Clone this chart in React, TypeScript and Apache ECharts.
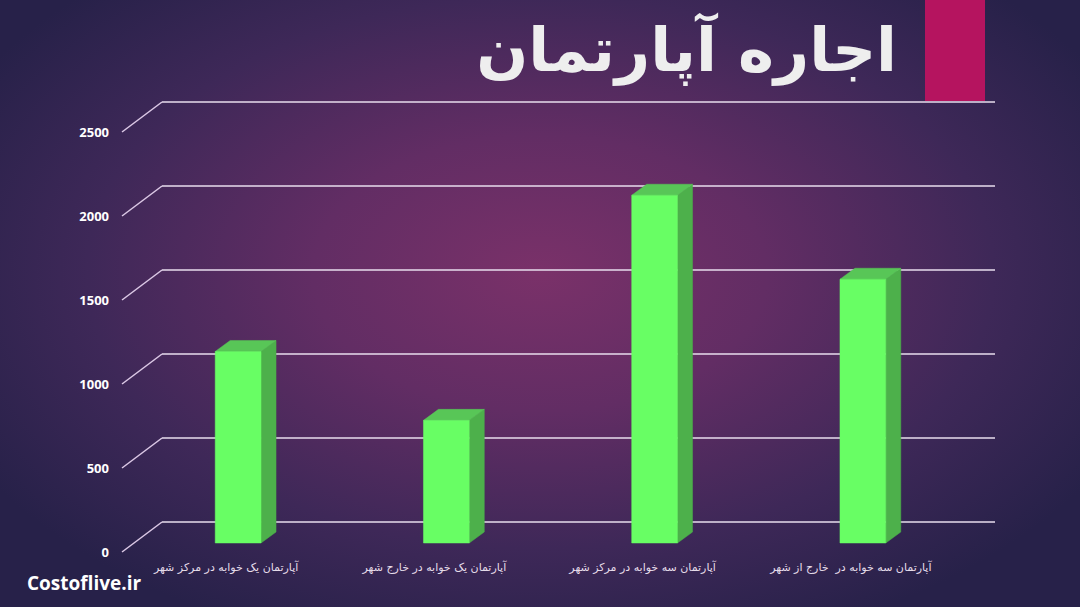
import React, { useEffect, useRef } from "react";
import * as echarts from "echarts";

const categories = [
  "آپارتمان یک خوابه در مرکز شهر",
  "آپارتمان یک خوابه در خارج شهر",
  "آپارتمان سه خوابه در مرکز شهر",
  "آپارتمان سه خوابه در  خارج از شهر",
];
const rentValues = [1140, 730, 2070, 1570];
const yTicks = [0, 500, 1000, 1500, 2000, 2500];
const titleText = "اجاره آپارتمان";
const watermark = "Costoflive.ir";

const DEPTH_X = 40;
const DEPTH_Y = 30;

export default function App() {
  const ref = useRef<HTMLDivElement>(null);
  useEffect(() => {
    document.body.style.margin = "0";
    const chart = echarts.init(ref.current!, null, { renderer: "svg" });
    chart.setOption({
      animation: false,
      title: {
        text: titleText,
        right: 178,
        top: 14,
        textStyle: {
          fontSize: 61,
          fontWeight: "bold",
          color: "#EEEEEE",
          fontFamily: "DejaVu Sans",
        },
      },
      grid: [
        { left: 162, right: 85, top: 102, bottom: 85 },
        { left: 122, right: 125, top: 132, bottom: 55 },
      ],
      xAxis: [
        { type: "category", gridIndex: 0, data: categories, show: false },
        {
          type: "category",
          gridIndex: 1,
          data: categories,
          axisLine: { show: false },
          axisTick: { show: false },
          axisLabel: {
            color: "#E6DDEA",
            fontSize: 11,
            fontFamily: "DejaVu Sans",
            margin: 10,
            interval: 0,
          },
        },
      ],
      yAxis: [
        {
          type: "value",
          gridIndex: 0,
          min: 0,
          max: 2500,
          interval: 500,
          z: 0,
          axisLabel: { show: false },
          axisLine: { show: false },
          axisTick: { show: false },
          splitLine: { lineStyle: { color: "#E8DEEE", width: 1.5 } },
        },
        {
          type: "value",
          gridIndex: 1,
          min: 0,
          max: 2500,
          interval: 500,
          axisLabel: {
            color: "#FFFFFF",
            fontWeight: "bold",
            fontSize: 13,
            fontFamily: "Open Sans",
            margin: 13,
            formatter: (v: number) => String(v),
          },
          axisLine: { show: false },
          axisTick: { show: false },
          splitLine: { show: false },
        },
      ],
      series: [
        {
          type: "custom",
          xAxisIndex: 0,
          yAxisIndex: 0,
          encode: { x: 0, y: 1 },
          data: yTicks.map((v) => [0, v]),
          silent: true,
          z: 1,
          renderItem: (params: any, api: any) => {
            const p = api.coord([0, api.value(1)]);
            const x0 = params.coordSys.x;
            return {
              type: "line",
              shape: { x1: x0 - DEPTH_X, y1: p[1] + DEPTH_Y, x2: x0, y2: p[1] },
              style: { stroke: "#DCC9E6", lineWidth: 1.5 },
            };
          },
        },
        {
          type: "custom",
          xAxisIndex: 1,
          yAxisIndex: 1,
          encode: { x: 0, y: 1 },
          z: 20,
          data: rentValues.map((v, i) => [i, v]),
          renderItem: (params: any, api: any) => {
            const i = api.value(0);
            const v = api.value(1);
            const base = api.coord([i, 0]);
            const top = api.coord([i, v]);
            const band = api.size([1, 0])[0];
            const w = band * 0.22;
            const cx = base[0] + 0.3 * DEPTH_X;
            const yb = base[1] - 0.3 * DEPTH_Y;
            const yt = top[1] - 0.3 * DEPTH_Y;
            const x0 = cx - w / 2;
            const x1 = cx + w / 2;
            const dx = 15;
            const dy = 11;
            return {
              type: "group",
              children: [
                {
                  type: "polygon",
                  shape: { points: [[x1, yt], [x1 + dx, yt - dy], [x1 + dx, yb - dy], [x1, yb]] },
                  style: { fill: "#4DB04B", stroke: "#4DB04B", lineWidth: 0.5 },
                },
                {
                  type: "polygon",
                  shape: { points: [[x0, yt], [x0 + dx, yt - dy], [x1 + dx, yt - dy], [x1, yt]] },
                  style: { fill: "#58C657", stroke: "#58C657", lineWidth: 0.5 },
                },
                {
                  type: "rect",
                  shape: { x: x0, y: yt, width: w, height: yb - yt },
                  style: { fill: "#68FE64", stroke: "#68FE64", lineWidth: 0.5 },
                },
              ],
            };
          },
        },
      ],
      graphic: [
        {
          type: "rect",
          left: 925,
          top: 0,
          shape: { width: 60, height: 101 },
          style: { fill: "#B5145F" },
        },
        {
          type: "text",
          left: 27,
          top: 573,
          style: {
            text: watermark,
            fill: "#FFFFFF",
            font: "bold 19px 'Open Sans'",
          },
        },
      ],
    });
    return () => chart.dispose();
  }, []);
  return (
    <div
      ref={ref}
      style={{
        width: 1080,
        height: 607,
        background:
          "radial-gradient(ellipse 60% 65% at 50% 45%, #7a3169 0%, #622d64 35%, #3e2858 70%, #272149 100%)",
      }}
    />
  );
}
